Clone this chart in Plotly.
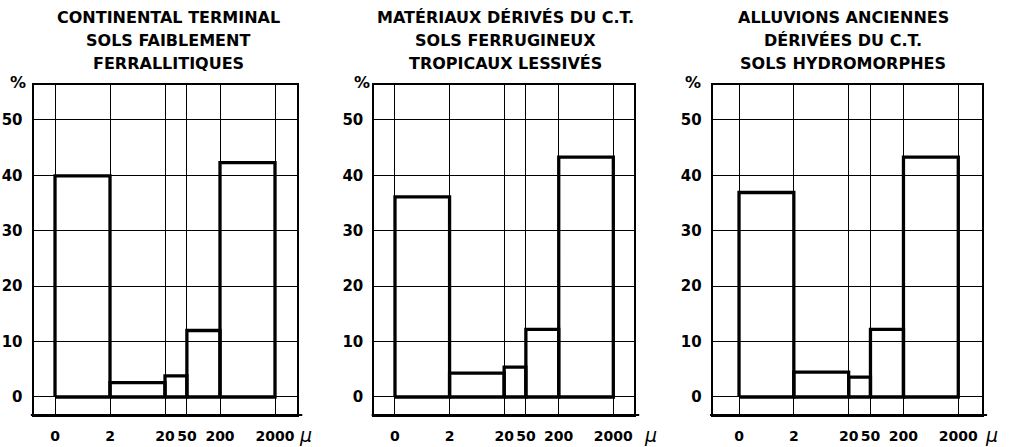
import numpy as np
import plotly.graph_objects as go

# ---------------- data ----------------
class_labels = ["0", "2", "20", "50", "200", "2000"]
# particle-size class limits (µ); "0" is drawn one decade below 2 as in the original
class_edges = [0.2, 2, 20, 50, 200, 2000]

pct_continental = [39.9, 2.6, 3.8, 12.0, 42.3]
pct_materiaux = [36.1, 4.3, 5.4, 12.2, 43.3]
pct_alluvions = [36.9, 4.5, 3.6, 12.2, 43.3]

title_continental = ["CONTINENTAL TERMINAL", "SOLS FAIBLEMENT", "FERRALLITIQUES"]
title_materiaux = ["MATÉRIAUX DÉRIVÉS DU C.T.", "SOLS FERRUGINEUX", "TROPICAUX LESSIVÉS"]
title_alluvions = ["ALLUVIONS ANCIENNES", "DÉRIVÉES DU C.T.", "SOLS HYDROMORPHES"]

y_ticks = [0, 10, 20, 30, 40, 50]

panels = [
    (pct_continental, title_continental),
    (pct_materiaux, title_materiaux),
    (pct_alluvions, title_alluvions),
]

# ---------------- layout geometry ----------------
W, H = 1014, 447
dom_px = [(33.5, 297), (374.3, 634), (712.7, 981.7)]
x_ranges = [(-1.090, 3.701), (-1.078, 3.680), (-1.179, 3.728)]
title_cx = [168, 505, 843]
title_cy = [17.5, 40.5, 63]
pct_shift = [-16, -12, -20]
mu_shift = [30, 37, 33]
y_dom = [1 - 415 / H, 1 - 85 / H]
y_range = [-3.25, 56.3]

FONT = "DejaVu Sans"
fig = go.Figure()
annotations = []
shapes = []

for i, (vals, tlines) in enumerate(panels):
    n = i + 1
    xa = "x" if n == 1 else f"x{n}"
    ya = "y" if n == 1 else f"y{n}"
    xs, ys = [], []
    for lo, hi, v in zip(class_edges[:-1], class_edges[1:], vals):
        xs += [lo, lo, hi, hi, lo, None]
        ys += [0, v, v, 0, 0, None]
    fig.add_trace(go.Scatter(x=xs, y=ys, mode="lines", xaxis=xa, yaxis=ya,
                             line=dict(color="black", width=3.3),
                             showlegend=False, hoverinfo="skip"))
    x0, x1 = dom_px[i]
    fig.update_layout(**{
        ("xaxis" if n == 1 else f"xaxis{n}"): dict(
            domain=[x0 / W, x1 / W], type="log", range=list(x_ranges[i]),
            anchor=ya, tickvals=class_edges, ticktext=class_labels,
            tickangle=0, automargin=False,
            showgrid=True, gridcolor="black", gridwidth=1.1,
            showline=True, linecolor="black", linewidth=2, mirror=True,
            zeroline=False, ticks="outside", ticklen=7,
            tickcolor="rgba(0,0,0,0)",
            tickfont=dict(family=FONT, size=14, color="black", weight="bold"),
            fixedrange=True),
        ("yaxis" if n == 1 else f"yaxis{n}"): dict(
            domain=y_dom, range=y_range, anchor=xa, tickvals=y_ticks,
            automargin=False,
            showgrid=True, gridcolor="black", gridwidth=1.1,
            showline=True, linecolor="black", linewidth=2, mirror=True,
            zeroline=False, ticks="outside", ticklen=6,
            tickcolor="rgba(0,0,0,0)",
            tickfont=dict(family=FONT, size=15, color="black", weight="bold"),
            fixedrange=True),
    })
    # extended bottom axis line
    shapes.append(dict(type="line", xref=f"{xa} domain", yref=f"{ya} domain",
                       x0=-0.01, x1=1.02, y0=0, y1=0,
                       line=dict(color="black", width=2)))
    # titles
    for t, cy in zip(tlines, title_cy):
        annotations.append(dict(text=t, xref="paper", yref="paper",
                                x=title_cx[i] / W, y=1 - cy / H,
                                xanchor="center", yanchor="middle",
                                showarrow=False,
                                font=dict(family=FONT, size=16, color="black", weight="bold")))
    # % label
    annotations.append(dict(text="%", xref=f"{xa} domain", yref="paper",
                            x=0, y=1 - 82 / H, xshift=pct_shift[i],
                            xanchor="center", yanchor="middle", showarrow=False,
                            font=dict(family=FONT, size=16, color="black", weight="bold")))
    # µ unit label
    annotations.append(dict(text="<i>μ</i>", xref=xa, yref="paper",
                            x=np.log10(class_edges[-1]), y=1 - 435 / H,
                            xshift=mu_shift[i], xanchor="center", yanchor="middle",
                            showarrow=False,
                            font=dict(family=FONT, size=19, color="black")))

fig.update_layout(width=W, height=H, margin=dict(l=0, r=0, t=0, b=0),
                  paper_bgcolor="white", plot_bgcolor="white",
                  annotations=annotations, shapes=shapes, showlegend=False)

fig.write_html("out.html", config={"displayModeBar": False})
